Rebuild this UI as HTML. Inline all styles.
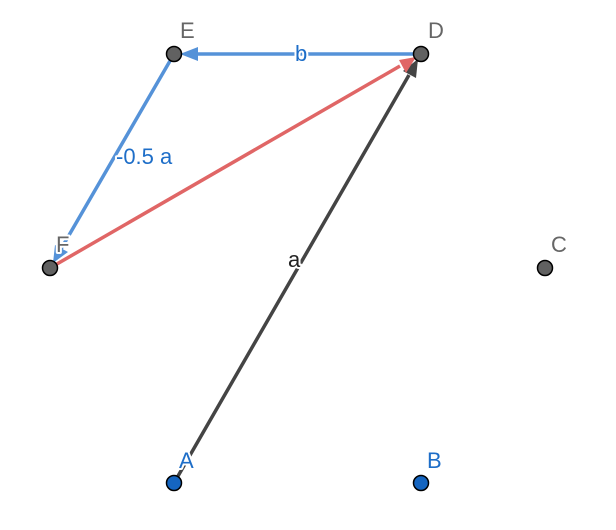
<!DOCTYPE html>
<html><head><meta charset="utf-8"><style>
html,body{margin:0;padding:0;background:#fff;}
svg{display:block;}
text{font-family:"Liberation Sans",sans-serif;font-size:22px;paint-order:stroke;stroke:#fff;stroke-width:4px;stroke-linejoin:round;}
</style></head><body>
<svg width="616" height="530" viewBox="0 0 616 530" xmlns="http://www.w3.org/2000/svg">
<line x1="174" y1="483" x2="409" y2="75" stroke="#444" stroke-width="3.5"/>
<polygon points="418,59 416,78 403,71" fill="#444"/>
<line x1="50" y1="268" x2="400" y2="66" stroke="#e06666" stroke-width="3.5"/>
<polygon points="416,57 406,73 399,60" fill="#e06666"/>
<line x1="421" y1="54" x2="197" y2="54" stroke="#5592d8" stroke-width="3.5"/>
<polygon points="180,54 198,47 198,61" fill="#5592d8"/>
<line x1="174" y1="54" x2="61" y2="249" stroke="#5592d8" stroke-width="3.5"/>
<polygon points="53,263 68,252 55,245" fill="#5592d8"/>
<text x="295" y="61" fill="#1e6ec8">b</text>
<text x="116" y="164" fill="#1e6ec8">-0.5 a</text>
<text x="288" y="267" fill="#222">a</text>
<text x="180" y="38" fill="#666">E</text>
<text x="428" y="38" fill="#666">D</text>
<text x="56" y="252" fill="#666">F</text>
<text x="551" y="252" fill="#666">C</text>
<text x="179" y="468" fill="#1e6ec8">A</text>
<text x="427" y="468" fill="#1e6ec8">B</text>
<g stroke="#000" stroke-width="1.5">
<circle cx="174" cy="54" r="7.5" fill="#616161"/>
<circle cx="421" cy="54" r="7.5" fill="#616161"/>
<circle cx="50" cy="268" r="7.5" fill="#616161"/>
<circle cx="545" cy="268" r="7.5" fill="#616161"/>
<circle cx="174" cy="483" r="7.5" fill="#1565c0"/>
<circle cx="421" cy="483" r="7.5" fill="#1565c0"/>
</g>
</svg>
</body></html>
